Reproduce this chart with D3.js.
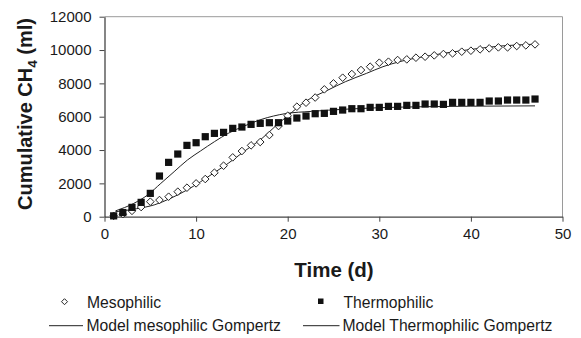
<!DOCTYPE html>
<html><head><meta charset="utf-8">
<script src="https://cdn.jsdelivr.net/npm/d3@7"></script>
<style>
html,body{margin:0;padding:0;background:#fff;}
svg{display:block;font-family:"Liberation Sans",Arial,Helvetica,sans-serif;}
</style></head>
<body>
<svg id="chart" width="581" height="338"></svg>
<script>
// ---- data ----
const days = d3.range(1, 48); // days 1..47
const mesophilic = [50,150,350,580,900,1000,1200,1500,1740,2000,2260,2640,3060,3560,3940,4280,4480,4900,5440,6060,6600,6840,7150,7640,8000,8340,8560,8800,9000,9240,9300,9400,9440,9540,9600,9680,9760,9800,9900,9960,10040,10100,10160,10160,10240,10280,10340];
const thermophilic = [50,250,560,860,1400,2440,3260,3760,4280,4440,4800,5000,5060,5300,5380,5540,5600,5640,5640,5740,5920,6040,6180,6200,6320,6400,6480,6480,6560,6560,6620,6620,6680,6680,6760,6760,6740,6860,6860,6860,6860,6940,6940,7000,7000,7000,7060];
const modelMesoT = [1.2,3.5,5.5,7.2,9,10.5,12,13.5,15.3,17.2,18.6,20.1,21.9,24.4,26.3,28.6,30.4,32.2,35.9,39.5,43.2,47];
const modelMesoV = [300,480,720,1100,1600,2100,2650,3200,3940,4700,5400,6100,6900,7600,8100,8600,9000,9300,9700,10000,10240,10350];
const modelThermoT = [1.2,3.2,4.7,6.15,7.6,9.05,10.5,12,13.5,15.3,17.2,19.7,22.6,26.3,30,35,40,47];
const modelThermoV = [350,800,1300,2000,2700,3400,3950,4500,5000,5450,5850,6180,6320,6450,6540,6600,6630,6650];
const xTicks = [0,10,20,30,40,50];
const yTicks = [0,2000,4000,6000,8000,10000,12000];
const legendLabels = ["Mesophilic","Thermophilic","Model mesophilic Gompertz","Model Thermophilic Gompertz"];

// ---- layout ----
const svg = d3.select("#chart");
const L = 104.5, R = 562.5, T = 16.7, B = 216.7;
const x = d3.scaleLinear().domain([0,50]).range([L,R]);
const y = d3.scaleLinear().domain([0,12000]).range([B,T]);
const ink = "#1a1a1a";

// plot border (top & right)
svg.append("path").attr("d",`M${L},${T}H${R}V${B}`).attr("fill","none").attr("stroke","#9a9a9a").attr("stroke-width",1);

// axes
const gx = svg.append("g").attr("transform",`translate(0,${B})`)
  .call(d3.axisBottom(x).tickValues(xTicks).tickFormat(d3.format("d")).tickSize(5).tickPadding(7).tickSizeOuter(0));
const gy = svg.append("g").attr("transform",`translate(${L},0)`)
  .call(d3.axisLeft(y).tickValues(yTicks).tickFormat(d3.format("d")).tickSize(5).tickPadding(8).tickSizeOuter(0));
[gx,gy].forEach(g=>{
  g.select(".domain").attr("stroke","#444").attr("stroke-width",1.3);
  g.selectAll(".tick line").attr("stroke","#444");
  g.selectAll(".tick text").attr("fill",ink).style("font-size","15px").style("font-family",'"Liberation Sans",Arial,sans-serif');
});

// axis titles
svg.append("text").attr("x",334).attr("y",276.5).attr("text-anchor","middle")
  .style("font-size","20.5px").style("font-weight","bold").attr("fill",ink).text("Time (d)");
const yt = svg.append("text").attr("transform","translate(32,114) rotate(-90)").attr("text-anchor","middle")
  .style("font-size","20px").style("font-weight","bold").attr("fill",ink);
yt.append("tspan").text("Cumulative CH");
yt.append("tspan").attr("dy",5).style("font-size","13.5px").text("4");
yt.append("tspan").attr("dy",-5).text(" (ml)");

// model lines
const line = d3.line().x(d=>x(d[0])).y(d=>y(d[1])).curve(d3.curveMonotoneX);
const mMeso = modelMesoT.map((t,i)=>[t,modelMesoV[i]]);
const mThermo = modelThermoT.map((t,i)=>[t,modelThermoV[i]]);
svg.append("path").attr("d",line(mMeso)).attr("fill","none").attr("stroke","#222").attr("stroke-width",1);
svg.append("path").attr("d",line(mThermo)).attr("fill","none").attr("stroke","#222").attr("stroke-width",1);

// markers
const diamond = (cx,cy,r)=>`M${cx},${cy-r}L${cx+r},${cy}L${cx},${cy+r}L${cx-r},${cy}Z`;
svg.append("g").selectAll("path").data(days).join("path")
  .attr("d",(d,i)=>diamond(x(d),y(mesophilic[i]),3.8))
  .attr("fill","#fff").attr("stroke","#222").attr("stroke-width",1);
svg.append("g").selectAll("rect").data(days).join("rect")
  .attr("x",(d)=>x(d)-3.6).attr("y",(d,i)=>y(thermophilic[i])-3.6)
  .attr("width",7.2).attr("height",7.2).attr("fill","#111");

// legend
const lg = svg.append("g").style("font-size","15.7px").attr("fill",ink);
lg.append("path").attr("d",diamond(64.5,301.7,3)).attr("fill","#fff").attr("stroke","#222").attr("stroke-width",1);
lg.append("text").attr("x",87).attr("y",307.5).text(legendLabels[0]);
lg.append("rect").attr("x",318).attr("y",298.5).attr("width",5.5).attr("height",5.5).attr("fill","#111");
lg.append("text").attr("x",343.5).attr("y",307.5).text(legendLabels[1]);
lg.append("line").attr("x1",49).attr("x2",83).attr("y1",325.7).attr("y2",325.7).attr("stroke","#222");
lg.append("text").attr("x",86.5).attr("y",331).text(legendLabels[2]);
lg.append("line").attr("x1",303).attr("x2",339.5).attr("y1",325.7).attr("y2",325.7).attr("stroke","#222");
lg.append("text").attr("x",342.5).attr("y",331).text(legendLabels[3]);
</script>
</body></html>
